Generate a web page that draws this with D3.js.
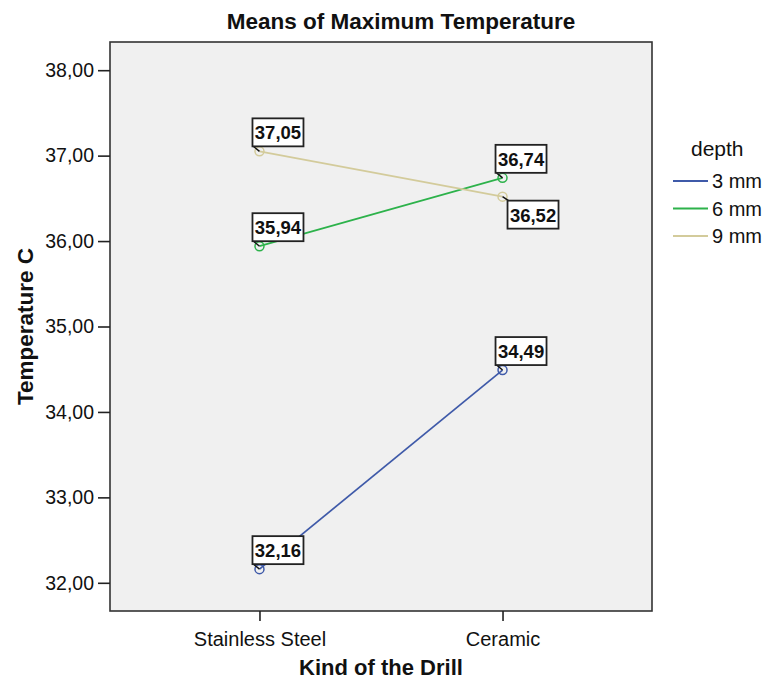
<!DOCTYPE html>
<html>
<head>
<meta charset="utf-8">
<script src="https://cdn.jsdelivr.net/npm/d3@7"></script>
<style>
  body { margin: 0; background: #fff; }
  text { font-family: "Liberation Sans", Arial, sans-serif; fill: #111; }
</style>
</head>
<body>
<svg id="chart" width="767" height="680"></svg>
<script>
// Kinds of drill (x categories) and the drilling depths (series)
const drills = ["Stainless Steel", "Ceramic"];
const depths = ["3 mm", "6 mm", "9 mm"];

// Mean maximum temperature (°C) per drill, one array per depth
const temp3mm = [32.16, 34.49];
const temp6mm = [35.94, 36.74];
const temp9mm = [37.05, 36.52];

// Y axis tick values
const yTicks = [32, 33, 34, 35, 36, 37, 38];

const seriesValues = [temp3mm, temp6mm, temp9mm];
const depthColors = ["#3f5aa9", "#2db24b", "#d3cb9b"];
// Value labels sit above-right of the marker unless flagged to go below
const labelBelow = [[false, false], [false, false], [false, true]];

const svg = d3.select("#chart");
const plot = { left: 110, right: 652, top: 42, bottom: 611 };

const x = d3.scalePoint().domain(drills)
  .range([plot.left, plot.right]).padding(0.615);
const y = d3.scaleLinear().domain([31.67, 38.33])
  .range([plot.bottom, plot.top]);

const fmt = v => d3.format(".2f")(v).replace(".", ",");

// Plot frame
svg.append("rect")
  .attr("x", plot.left).attr("y", plot.top)
  .attr("width", plot.right - plot.left).attr("height", plot.bottom - plot.top)
  .attr("fill", "#f0f0f0").attr("stroke", "#333").attr("stroke-width", 1.6);

// Y axis
const yAxis = svg.append("g")
  .attr("transform", `translate(${plot.left},0)`)
  .call(d3.axisLeft(y).tickValues(yTicks).tickFormat(fmt)
    .tickSize(12).tickSizeOuter(0).tickPadding(4));
yAxis.select(".domain").remove();
yAxis.selectAll(".tick line").attr("stroke", "#222").attr("stroke-width", 1.6);
yAxis.selectAll(".tick text").attr("font-size", 19.5)
  .attr("font-family", "'Liberation Sans', Arial, sans-serif").attr("fill", "#222");

// X axis
const xAxis = svg.append("g")
  .attr("transform", `translate(0,${plot.bottom})`)
  .call(d3.axisBottom(x).tickSize(10).tickSizeOuter(0).tickPadding(11));
xAxis.select(".domain").remove();
xAxis.selectAll(".tick line").attr("stroke", "#222").attr("stroke-width", 1.6);
xAxis.selectAll(".tick text").attr("font-size", 20)
  .attr("font-family", "'Liberation Sans', Arial, sans-serif").attr("fill", "#222");

// Titles
svg.append("text").attr("x", 401).attr("y", 29)
  .attr("text-anchor", "middle").attr("font-size", 22.5).attr("font-weight", "bold")
  .text("Means of Maximum Temperature");
svg.append("text").attr("x", (plot.left + plot.right) / 2).attr("y", 675)
  .attr("text-anchor", "middle").attr("font-size", 22).attr("font-weight", "bold")
  .text("Kind of the Drill");
svg.append("text")
  .attr("transform", `translate(33,${(plot.top + plot.bottom) / 2}) rotate(-90)`)
  .attr("text-anchor", "middle").attr("font-size", 22.5).attr("font-weight", "bold")
  .text("Temperature C");

// Series lines and markers
const line = d3.line().x((d, i) => x(drills[i])).y(d => y(d));
seriesValues.forEach((vals, s) => {
  svg.append("path").datum(vals)
    .attr("d", line).attr("fill", "none")
    .attr("stroke", depthColors[s]).attr("stroke-width", 1.7);
  svg.selectAll(null).data(vals).enter().append("circle")
    .attr("cx", (d, i) => x(drills[i])).attr("cy", d => y(d))
    .attr("r", 4.5).attr("fill", "none")
    .attr("stroke", depthColors[s]).attr("stroke-width", 1.5);
});

// Value labels with short leader lines
const boxW = 51, boxH = 28;
seriesValues.forEach((vals, s) => {
  vals.forEach((v, i) => {
    const px = x(drills[i]), py = y(v);
    const below = labelBelow[s][i];
    const bx = below ? px + 5 : px - 7;
    const by = below ? py + 4 : py - 5 - boxH;
    const cy = below ? by : by + boxH;
    svg.append("line")
      .attr("x1", px).attr("y1", py).attr("x2", bx + 1).attr("y2", cy)
      .attr("stroke", "#111").attr("stroke-width", 1.4);
    svg.append("rect")
      .attr("x", bx).attr("y", by).attr("width", boxW).attr("height", boxH)
      .attr("fill", "#fff").attr("stroke", "#222").attr("stroke-width", 1.8);
    svg.append("text")
      .attr("x", bx + boxW / 2).attr("y", by + 21)
      .attr("text-anchor", "middle").attr("font-size", 18.5).attr("font-weight", "bold")
      .text(fmt(v));
  });
});

// Legend
const legend = svg.append("g");
legend.append("text").attr("x", 691).attr("y", 156)
  .attr("font-size", 21).attr("fill", "#222").text("depth");
depths.forEach((d, s) => {
  const ly = 181 + s * 27.5;
  legend.append("line")
    .attr("x1", 673).attr("x2", 708).attr("y1", ly).attr("y2", ly)
    .attr("stroke", depthColors[s]).attr("stroke-width", 2);
  legend.append("text").attr("x", 712).attr("y", ly).attr("dy", "0.36em")
    .attr("font-size", 20).attr("fill", "#222").text(d);
});
</script>
</body>
</html>
